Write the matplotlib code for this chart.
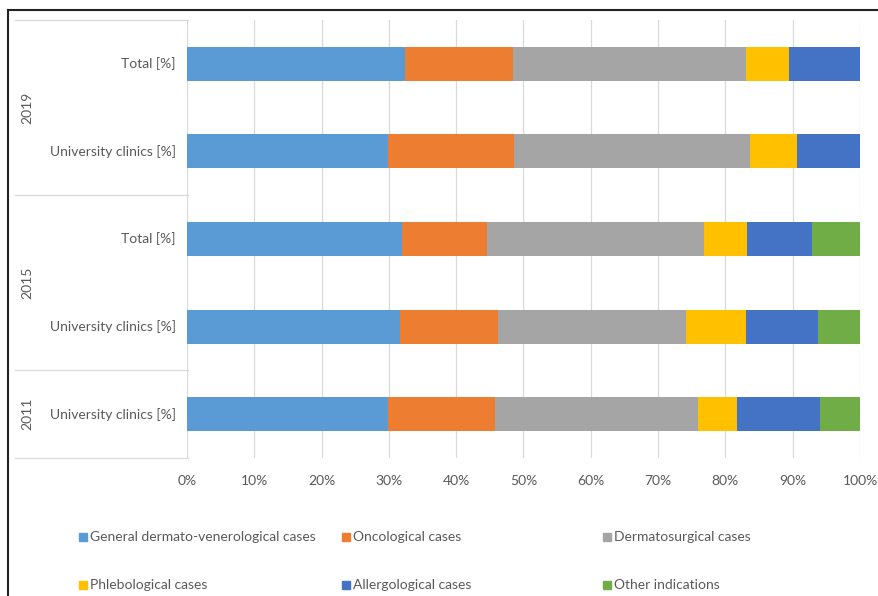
import matplotlib.pyplot as plt
from matplotlib.lines import Line2D
from matplotlib.patches import Rectangle
import numpy as np

# share of cases per category (percent), rows top to bottom
row_labels = ["Total [%]", "University clinics [%]", "Total [%]",
              "University clinics [%]", "University clinics [%]"]
years = ["2019", "2015", "2011"]
year_rows = [2, 2, 1]

series_names = ["General dermato-venerological cases", "Oncological cases",
                "Dermatosurgical cases", "Phlebological cases",
                "Allergological cases", "Other indications"]
general = [32.4, 29.9, 32.0, 31.6, 29.9]
oncological = [16.0, 18.7, 12.6, 14.6, 15.9]
dermatosurgical = [34.7, 35.1, 32.2, 28.0, 30.1]
phlebological = [6.4, 6.9, 6.4, 8.9, 5.8]
allergological = [10.5, 9.4, 9.6, 10.7, 12.4]
other = [0.0, 0.0, 7.2, 6.2, 5.9]

colors = ["#5B9BD5", "#ED7D31", "#A5A5A5", "#FFC000", "#4472C4", "#70AD47"]
TEXT = "#595959"
GRID = "#D9D9D9"
FONT = ["Lato", "DejaVu Sans"]

W, H = 879, 596
fig = plt.figure(figsize=(W / 100, H / 100), dpi=100)


def fx(px):
    return px / W


def fy(py):
    return 1 - py / H


left, right, top, bottom = 187, 860, 20, 458
ax = fig.add_axes([fx(left), fy(bottom), fx(right - left), (bottom - top) / H])

data = np.array([general, oncological, dermatosurgical, phlebological,
                 allergological, other])
y = np.arange(len(row_labels))
start = np.zeros(len(row_labels))
for name, vals, c in zip(series_names, data, colors):
    ax.barh(y, vals, left=start, height=0.39, color=c, label=name, zorder=3)
    start += vals

ax.set_xlim(0, 100)
ax.set_ylim(len(row_labels) - 0.5, -0.5)
ax.set_xticks(np.arange(0, 101, 10))
ax.set_xticklabels([f"{v}%" for v in range(0, 101, 10)])
ax.tick_params(axis="x", length=0, pad=12, labelsize=10, labelcolor=TEXT)
for lab in ax.get_xticklabels():
    lab.set_family(FONT)
ax.set_yticks([])
ax.grid(axis="x", color=GRID, linewidth=0.9, zorder=0)
for s in ax.spines.values():
    s.set_visible(False)

# row labels and year groups on the left
row_h = (bottom - top) / len(row_labels)
for i, lab in enumerate(row_labels):
    fig.text(fx(176), fy(top + row_h * (i + 0.5)), lab, ha="right", va="center",
             fontsize=10, color=TEXT, family=FONT)

sep = top
fig.add_artist(Line2D([fx(15), fx(188)], [fy(sep), fy(sep)], color=GRID, lw=0.9))
for yr, n in zip(years, year_rows):
    mid = sep + row_h * n / 2
    fig.text(fx(27), fy(mid), yr, rotation=90, ha="center", va="center",
             fontsize=10, color=TEXT, family=FONT)
    sep += row_h * n
    fig.add_artist(Line2D([fx(15), fx(188)], [fy(sep), fy(sep)], color=GRID, lw=0.9))

# legend laid out in two rows of three
leg_x = [83, 346, 607]
leg_y = [537, 585]
for k, (name, c) in enumerate(zip(series_names, colors)):
    px, py = leg_x[k % 3], leg_y[k // 3]
    fig.add_artist(Rectangle((fx(px - 4), fy(py + 4)), 8 / W, 8 / H,
                             transform=fig.transFigure, color=c))
    fig.text(fx(px + 7), fy(py), name, ha="left", va="center",
             fontsize=10, color=TEXT, family=FONT)

# outer frame
fig.add_artist(Line2D([fx(8), fx(8)], [fy(10), 0], color="#222222", lw=1.5))
fig.add_artist(Line2D([fx(8), 1], [fy(10), fy(10)], color="#222222", lw=1.5))

fig.savefig("out.png", dpi=100)
